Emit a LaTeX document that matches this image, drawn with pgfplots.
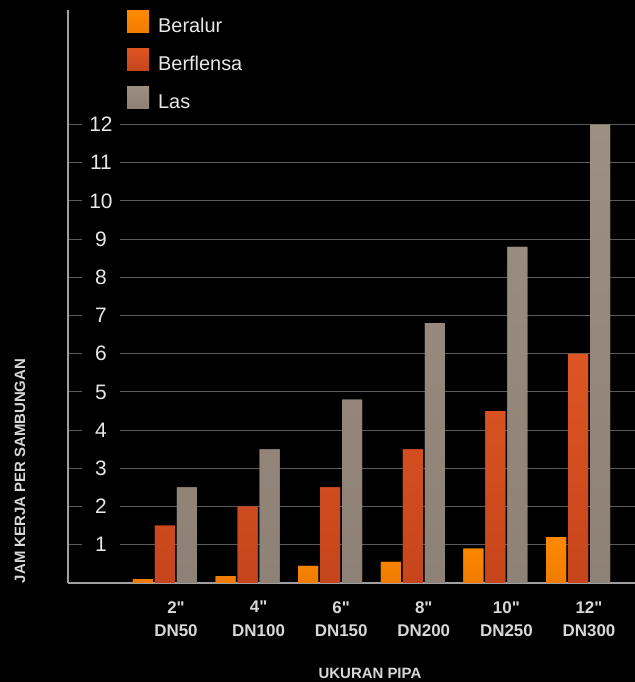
\documentclass[border=0pt]{standalone}
\usepackage{fontspec}
\setmainfont{Liberation Sans}[Ligatures=TeXOff]
\usepackage{pgfplots}
\pgfplotsset{compat=1.18}
\definecolor{axc}{HTML}{A0A0A0}
\definecolor{grc}{HTML}{5A5A5A}
\definecolor{txt}{HTML}{E8E8E8}
\definecolor{lbl}{HTML}{D8D8D8}
\definecolor{orT}{HTML}{FF8A00}
\definecolor{orB}{HTML}{F07C00}
\definecolor{rdT}{HTML}{DE5523}
\definecolor{rdB}{HTML}{C6451B}
\definecolor{gyT}{HTML}{9D8F81}
\definecolor{gyB}{HTML}{8E8175}
\begin{document}
\begin{tikzpicture}
\path[use as bounding box, fill=black] (0,0) rectangle (635bp,682bp);
\begin{axis}[
  at={(68bp,99bp)}, anchor=south west,
  scale only axis, width=567bp, height=573bp,
  xmin=-0.174, xmax=6.69, ymin=0, ymax=15,
  axis lines*=left,
  axis line style={color=axc, line width=1.2bp},
  ybar=2bp, bar width=20bp,
  ymajorgrids, major grid style={color=grc, line width=1bp},
  major tick length=0pt,
  ytick={1,...,12},
  xtick={1,...,6},
  xticklabels={{2"\\DN50},{4"\\DN100},{6"\\DN150},{8"\\DN200},{10"\\DN250},{12"\\DN300}},
  xticklabel style={align=center, font=\bfseries\fontsize{17}{24}\selectfont, text=lbl,
    anchor=north, xshift=11bp, yshift=-18bp, inner sep=0pt},
  yticklabel style={anchor=center, xshift=33bp, fill=black, minimum width=38bp,
    inner sep=0pt, text=txt, font=\fontsize{21}{24}\selectfont},
  /pgf/number format/assume math mode=true,
  xlabel={UKURAN PIPA},
  xlabel style={at={(axis description cs:0.5326,0)}, anchor=base, yshift=-95bp,
    font=\bfseries\fontsize{15}{18}\selectfont, text=lbl},
  ylabel={JAM KERJA PER SAMBUNGAN},
  ylabel style={at={(axis description cs:-0.0847,0.1955)}, anchor=center,
    font=\bfseries\fontsize{15}{18}\selectfont, text=lbl},
  legend style={at={(axis description cs:0.104,1)}, anchor=north west, draw=none,
    fill=none, text=txt, font=\fontsize{20}{24}\selectfont, inner sep=0pt,
    row sep=12bp, /tikz/every odd column/.append style={column sep=7bp}},
  legend cell align=left,
  legend image code/.code={\fill[#1] (0bp,-6bp) rectangle (22bp,16bp);},
]
% Beralur
\addplot[draw=none, fill=orT, top color=orT, bottom color=orB]
  coordinates {(1,0.1) (2,0.18) (3,0.45) (4,0.55) (5,0.9) (6,1.2)};
% Berflensa
\addplot[draw=none, fill=rdT, top color=rdT, bottom color=rdB]
  coordinates {(1,1.5) (2,2) (3,2.5) (4,3.5) (5,4.5) (6,6)};
% Las
\addplot[draw=none, fill=gyT, top color=gyT, bottom color=gyB]
  coordinates {(1,2.5) (2,3.5) (3,4.8) (4,6.8) (5,8.8) (6,12)};
\legend{Beralur, Berflensa, Las}
\end{axis}
\end{tikzpicture}
\end{document}
